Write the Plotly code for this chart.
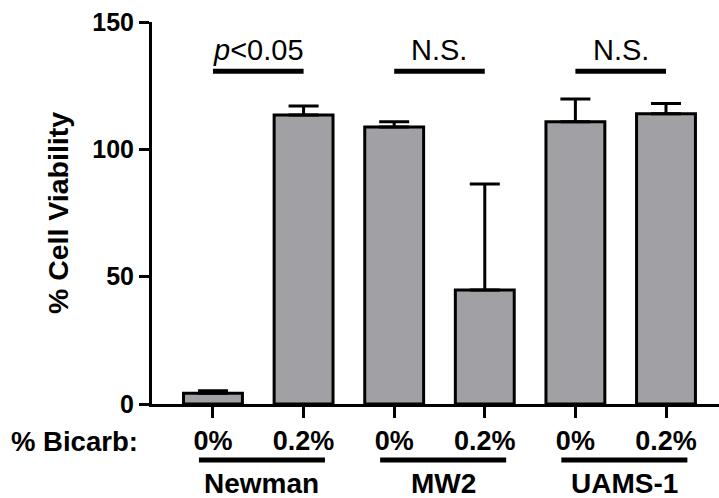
import plotly.graph_objects as go

# Cell viability per strain and bicarbonate condition
strains = ["Newman", "MW2", "UAMS-1"]
bicarb = ["0%", "0.2%"]
viability = [4.2, 113.5, 108.8, 44.8, 110.8, 114.0]
viability_err = [1.0, 3.5, 2.0, 41.6, 9.0, 4.0]
significance = ["<i>p</i>&lt;0.05", "N.S.", "N.S."]
y_ticks = [0, 50, 100, 150]

FONT = "Arial, Liberation Sans, sans-serif"
positions = list(range(len(viability)))
tick_text = bicarb * len(strains)

fig = go.Figure()
fig.add_trace(go.Bar(
    x=positions,
    y=viability,
    width=0.65,
    marker=dict(color="#a1a1a5", line=dict(color="black", width=3)),
    error_y=dict(type="data", array=viability_err,
                 arrayminus=[0] * len(viability_err), symmetric=False,
                 color="black", thickness=3, width=15),
))

shapes = []
annotations = []
for i, (name, sig) in enumerate(zip(strains, significance)):
    a, b = 2 * i, 2 * i + 1
    # significance bracket above each pair of bars
    shapes.append(dict(type="line", xref="x", yref="y", x0=a, x1=b,
                       y0=130.7, y1=130.7, line=dict(color="black", width=5)))
    annotations.append(dict(x=(a + b) / 2, y=139.0, xref="x", yref="y",
                            yanchor="middle", text=sig, showarrow=False,
                            font=dict(family=FONT, size=29, color="black")))
    # strain group line and label under the axis
    shapes.append(dict(type="line", xref="x", yref="paper", x0=a - 0.155,
                       x1=b + 0.236, y0=-0.1466, y1=-0.1466,
                       line=dict(color="black", width=5)))
    annotations.append(dict(x=(a + b) / 2 + 0.04, y=-0.207, xref="x",
                            yref="paper", yanchor="middle", borderpad=0,
                            text="<b>%s</b>" % name, showarrow=False,
                            font=dict(family=FONT, size=28, color="black")))

annotations.append(dict(x=-0.252, y=-0.099, xref="paper", yref="paper",
                        xanchor="left", yanchor="middle",
                        text="<b>% Bicarb:</b>", showarrow=False,
                        font=dict(family=FONT, size=27.5, color="black")))

fig.update_layout(
    width=719, height=498,
    margin=dict(l=152, r=0, t=22, b=94),
    paper_bgcolor="white", plot_bgcolor="white",
    showlegend=False,
    shapes=shapes, annotations=annotations,
    font=dict(family=FONT, color="black"),
    xaxis=dict(range=[-0.673, 5.585], tickvals=positions, ticktext=tick_text,
               showline=True, linewidth=3, linecolor="black",
               ticks="outside", ticklen=11, tickwidth=3, tickcolor="black",
               tickfont=dict(family=FONT, size=27, color="black",
                             weight="bold"),
               showgrid=False, zeroline=False, fixedrange=True),
    yaxis=dict(range=[0, 150], tickvals=y_ticks,
               showline=True, linewidth=3, linecolor="black",
               ticks="outside", ticklen=10, tickwidth=3, tickcolor="black",
               tickfont=dict(family=FONT, size=25, color="black",
                             weight="bold"),
               title=dict(text="<b>% Cell Viability</b>",
                          font=dict(family=FONT, size=28.5, color="black"),
                          standoff=16),
               showgrid=False, zeroline=False, fixedrange=True),
)

fig.write_html("out.html")
